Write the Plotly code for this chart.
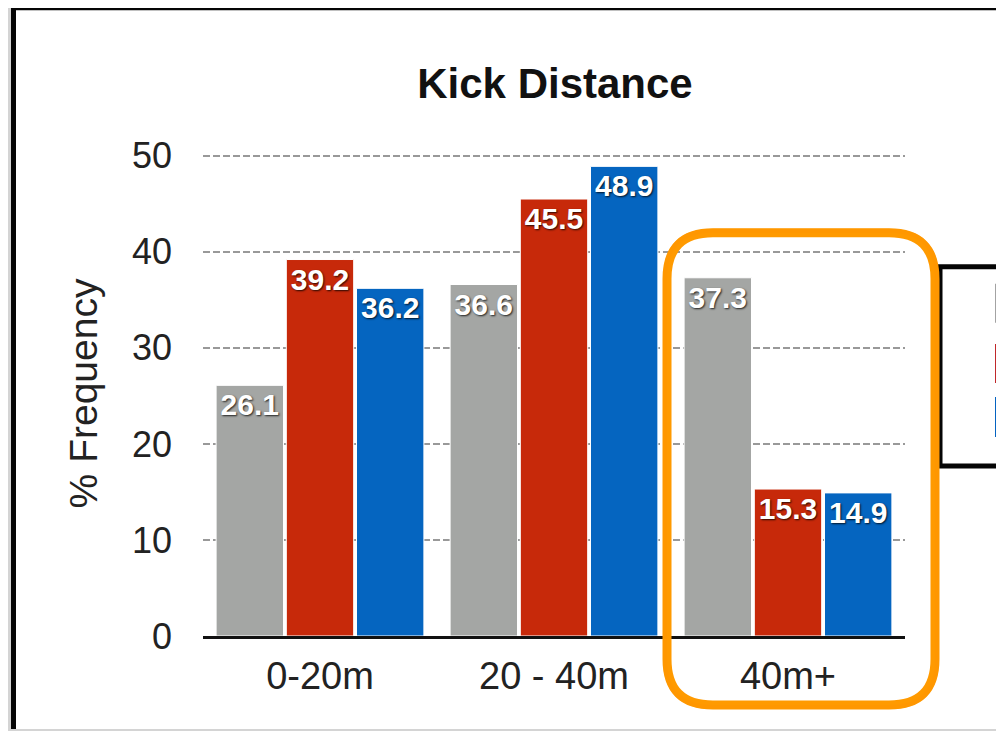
import plotly.graph_objects as go

# ---- data ----
categories = ["0-20m", "20 - 40m", "40m+"]
series_names = ["Series 1", "Series 2", "Series 3"]
series_grey = [26.1, 36.6, 37.3]
series_red = [39.2, 45.5, 15.3]
series_blue = [36.2, 48.9, 14.9]
y_ticks = [0, 10, 20, 30, 40, 50]
title_text = "Kick Distance"
y_title = "% Frequency"

colors = ["#a4a6a4", "#c7290a", "#0565c0"]
FONT = "Liberation Sans, Arial, Helvetica, sans-serif"

# the page body has an 8px margin: the figure starts at page (8, 8)
OFF = 8
PAGE_W, PAGE_H = 1004, 731
W, H = PAGE_W - OFF, PAGE_H - OFF
Y_MAX = 50.5
# plot area in page pixels
L, R, B = 203, 905, 636
T = B - (B - 156) * Y_MAX / 50.0


def px(x):
    return (x - L) / (R - L)


def py(y):
    return (B - y) / (B - T)


fig = go.Figure()
for name, vals, col in zip(series_names, [series_grey, series_red, series_blue], colors):
    fig.add_trace(go.Bar(
        x=categories, y=vals, name=name,
        marker=dict(color=col, line=dict(color="white", width=1)),
        texttemplate="%{y:.1f}",
        textposition="inside",
        insidetextanchor="end",
        textangle=0,
        textfont=dict(family=FONT, size=30, color="white",
                      weight="bold", shadow="1px 1px 2px rgba(0,0,0,0.8)"),
        cliponaxis=False,
        showlegend=False,
    ))

shapes = []
# white card with black top/left border
shapes.append(dict(type="rect", xref="paper", yref="paper", layer="below",
                   x0=px(16), x1=px(1015), y0=py(10), y1=py(729),
                   fillcolor="white", line=dict(width=0)))
shapes.append(dict(type="rect", xref="paper", yref="paper", layer="below",
                   x0=px(11), x1=px(1015), y0=py(0), y1=py(10.5),
                   fillcolor="#050505", line=dict(width=0)))
shapes.append(dict(type="rect", xref="paper", yref="paper", layer="below",
                   x0=px(11), x1=px(16), y0=py(0), y1=py(729),
                   fillcolor="#050505", line=dict(width=0)))

# cut-off legend box
shapes.append(dict(type="rect", xref="paper", yref="paper",
                   x0=px(940), x1=px(1040), y0=py(267), y1=py(466),
                   fillcolor="white", line=dict(color="#050505", width=5)))
swatch_rows = [(284, 323), (344, 383), (397, 437)]
for (y0, y1), col in zip(swatch_rows, ["#a3a3a3", "#c0282b", "#0563c1"]):
    shapes.append(dict(type="rect", xref="paper", yref="paper",
                       x0=px(995), x1=px(1020), y0=py(y0), y1=py(y1),
                       fillcolor=col, line=dict(width=0)))

# orange hand-drawn highlight (rounded rectangle)


def rounded(oL, oR, oT, oB, rr):
    def pt(x, y):
        return f"{px(x):.5f},{py(y):.5f}"
    return (f"M {pt(oL + rr, oT)} L {pt(oR - rr, oT)} Q {pt(oR, oT)} {pt(oR, oT + rr)} "
            f"L {pt(oR, oB - rr)} Q {pt(oR, oB)} {pt(oR - rr, oB)} "
            f"L {pt(oL + rr, oB)} Q {pt(oL, oB)} {pt(oL, oB - rr)} "
            f"L {pt(oL, oT + rr)} Q {pt(oL, oT)} {pt(oL + rr, oT)} Z")


shapes.append(dict(type="path", xref="paper", yref="paper",
                   path=rounded(667, 935, 233, 705, 46),
                   line=dict(color="#ff9a00", width=9)))
shapes.append(dict(type="path", xref="paper", yref="paper",
                   path=rounded(665, 937, 231, 707, 48),
                   line=dict(color="rgba(255,150,0,0.55)", width=4)))

fig.update_layout(
    width=W, height=H, autosize=False,
    margin=dict(l=L - OFF, r=W - (R - OFF), t=T - OFF, b=H - (B - OFF), pad=0),
    paper_bgcolor="#d4d4d4",
    plot_bgcolor="rgba(0,0,0,0)",
    barmode="group", bargap=0.10, bargroupgap=0.04,
    title=dict(text=f"<b>{title_text}</b>", x=(555 - OFF) / W, xanchor="center",
               y=1 - (83 - OFF) / H, yanchor="middle", xref="container", yref="container",
               font=dict(family=FONT, size=42, color="#111")),
    xaxis=dict(range=[-0.5, 2.5], showgrid=False, showline=True, linecolor="#111",
               linewidth=3, ticks="", ticklabelstandoff=4,
               tickfont=dict(family=FONT, size=38, color="#222")),
    yaxis=dict(range=[0, Y_MAX], tickvals=y_ticks, showgrid=True, gridcolor="#999999",
               gridwidth=1.5, griddash="7px,3px", zeroline=False, showline=False,
               ticks="", ticklabelstandoff=30,
               tickfont=dict(family=FONT, size=36, color="#222"),
               title=dict(text=y_title, standoff=22,
                          font=dict(family=FONT, size=39, color="#222"))),
    shapes=shapes,
    uniformtext=dict(minsize=30, mode="show"),
)

fig.write_html("out.html")
